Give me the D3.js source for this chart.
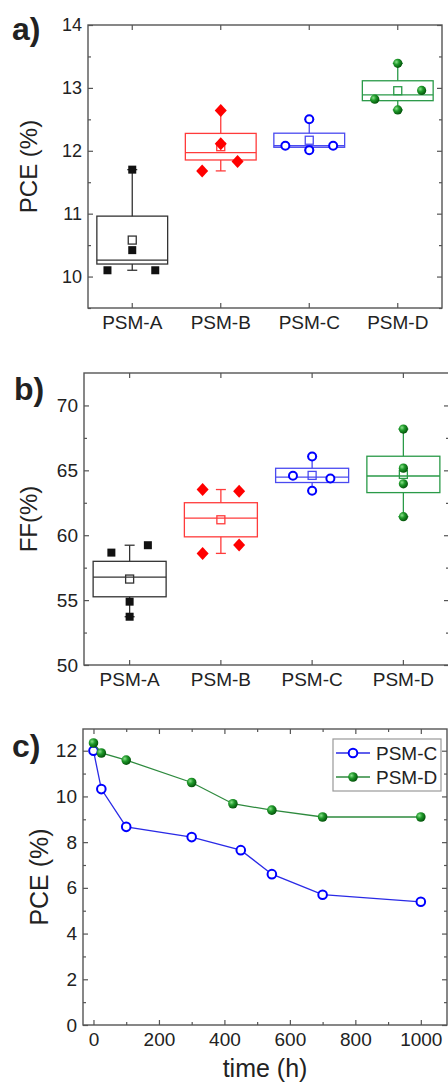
<!DOCTYPE html>
<meta charset="UTF-8">
<style>
    body { margin: 0; background: #fff; }
    svg text { font-family: "Liberation Sans", Arial, sans-serif; fill: #222; }
    .frame { fill: none; stroke: #555; stroke-width: 1.4px; }
    .tick line { stroke: #555; stroke-width: 1.2px; }
</style>
<body>
<script src="https://cdn.jsdelivr.net/npm/d3@7"></script>
<script>

// ---- data ----
var categories = ["PSM-A", "PSM-B", "PSM-C", "PSM-D"];

// a) PCE of each device (%)
var pceA = [11.70, 10.42, 10.10, 10.10];
var pceB = [12.64, 12.11, 11.68, 11.83];
var pceC = [12.50, 12.08, 12.01, 12.08];
var pceD = [13.39, 12.96, 12.82, 12.65];

// b) FF of each device (%)
var ffA = [58.66, 59.23, 54.88, 53.72];
var ffB = [63.52, 63.39, 58.60, 59.25];
var ffC = [66.07, 63.42, 64.58, 64.37];
var ffD = [68.18, 65.17, 63.96, 61.43];

// c) stability, PCE vs time
var hoursC = [0, 24, 100, 300, 450, 545, 700, 1000];
var pceTimeC = [12.00, 10.32, 8.67, 8.22, 7.65, 6.60, 5.70, 5.39];
var hoursD = [0, 24, 100, 300, 426, 545, 700, 1000];
var pceTimeD = [12.34, 11.90, 11.59, 10.61, 9.68, 9.40, 9.10, 9.10];

var pceTicks = [10, 11, 12, 13, 14];
var ffTicks = [50, 55, 60, 65, 70];
var timeTicks = [0, 200, 400, 600, 800, 1000];
var pceTimeTicks = [0, 2, 4, 6, 8, 10, 12];

// ---- styling / layout ----
var colors = ["#111", "#ff0000", "#0000ff", "#0a8a1e"];
var boxColors = ["#333", "#ff3b3b", "#4a4af0", "#2a9a48"];
var shapes = ["square", "diamond", "circle", "ball"];
var fmt = d3.format("d");

// horizontal spread of overlapping points (fraction of band)
var jitterPce = [[0, 0, -0.28, 0.26], [0, 0, -0.21, 0.19], [0, -0.27, 0, 0.27], [0, 0.27, -0.26, 0]];
var jitterFf = [[-0.2, 0.2, 0, 0], [-0.2, 0.2, -0.2, 0.2], [0, 0, -0.21, 0.2], [0, 0, 0, 0]];

var svg = d3.select("body").append("svg")
    .attr("width", 448)
    .attr("height", 1086);

// gradient for the green "balls"
var grad = svg.append("defs").append("radialGradient")
    .attr("id", "ball")
    .attr("cx", "35%").attr("cy", "35%").attr("r", "65%");
grad.append("stop").attr("offset", "0%").attr("stop-color", "#8be08b");
grad.append("stop").attr("offset", "45%").attr("stop-color", "#1f9a2a");
grad.append("stop").attr("offset", "100%").attr("stop-color", "#05560c");

function drawMarker(g, shape, i, cx, cy, r) {
  if (shape === "square") {
    g.append("rect").attr("x", cx - 4).attr("y", cy - 4)
      .attr("width", 8).attr("height", 8).attr("fill", colors[i]);
  } else if (shape === "diamond") {
    g.append("path")
      .attr("d", "M" + cx + "," + (cy - 6.5) + "L" + (cx + 6) + "," + cy +
                 "L" + cx + "," + (cy + 6.5) + "L" + (cx - 6) + "," + cy + "Z")
      .attr("fill", colors[i]);
  } else if (shape === "circle") {
    g.append("circle").attr("cx", cx).attr("cy", cy).attr("r", r || 4)
      .attr("fill", "#fff").attr("stroke", colors[i]).attr("stroke-width", 2);
  } else {
    g.append("circle").attr("cx", cx).attr("cy", cy).attr("r", r || 4.6)
      .attr("fill", "url(#ball)");
  }
}

function range(a, b, step) {
  var out = [];
  for (var v = a; v <= b + 1e-9; v += step) out.push(+v.toFixed(3));
  return out;
}

// ****************** box panels (a, b) ***************************
function boxPanel(opt) {
  var g = svg.append("g");
  var x = d3.scaleBand().domain(categories).range([opt.left, opt.right]);
  var y = d3.scaleLinear().domain(opt.domain).range([opt.bottom, opt.top]);
  var bw = x.bandwidth();

  // axes, ticks pointing inward
  var yl = g.append("g").attr("transform", "translate(" + opt.left + ",0)")
      .call(d3.axisLeft(y).tickValues(opt.ticks).tickFormat(fmt).tickSize(-5).tickPadding(6));
  yl.selectAll("text").style("font-size", opt.tickFont + "px");
  g.append("g").attr("transform", "translate(" + opt.left + ",0)")
      .call(d3.axisLeft(y).tickValues(opt.minor).tickSize(-3).tickFormat(""));
  g.append("g").attr("transform", "translate(" + opt.right + ",0)")
      .call(d3.axisRight(y).tickValues(opt.ticks).tickSize(-5).tickFormat(""));
  g.append("g").attr("transform", "translate(" + opt.right + ",0)")
      .call(d3.axisRight(y).tickValues(opt.minor).tickSize(-3).tickFormat(""));
  var xb = g.append("g").attr("transform", "translate(0," + opt.bottom + ")")
      .call(d3.axisBottom(x).tickSize(-5).tickPadding(8));
  xb.selectAll("text").style("font-size", "19px");
  g.append("g").attr("transform", "translate(0," + opt.top + ")")
      .call(d3.axisTop(x).tickSize(-5).tickFormat(""));
  g.selectAll(".domain").remove();
  g.selectAll(".tick text").attr("fill", "#222");

  g.append("rect").attr("class", "frame")
      .attr("x", opt.left).attr("y", opt.top)
      .attr("width", opt.right - opt.left).attr("height", opt.bottom - opt.top);

  opt.series.forEach(function(vals, i) {
    var cx = x(categories[i]) + bw / 2;
    var mean = d3.mean(vals);
    var se = d3.deviation(vals) / Math.sqrt(vals.length);
    var med = d3.median(vals);
    var ext = d3.extent(vals);
    var c = boxColors[i];
    var half = bw * 0.4;
    var bg = g.append("g").attr("stroke", c).attr("stroke-width", 1.3).attr("fill", "none");

    // whiskers with caps
    bg.append("line").attr("x1", cx).attr("x2", cx).attr("y1", y(mean + se)).attr("y2", y(ext[1]));
    bg.append("line").attr("x1", cx).attr("x2", cx).attr("y1", y(mean - se)).attr("y2", y(ext[0]));
    [ext[0], ext[1]].forEach(function(v) {
      bg.append("line").attr("x1", cx - 5).attr("x2", cx + 5).attr("y1", y(v)).attr("y2", y(v));
    });
    // box = mean +- standard error
    bg.append("rect").attr("x", cx - half).attr("width", half * 2)
      .attr("y", y(mean + se)).attr("height", y(mean - se) - y(mean + se));
    bg.append("line").attr("x1", cx - half).attr("x2", cx + half).attr("y1", y(med)).attr("y2", y(med));
    bg.append("rect").attr("x", cx - 4).attr("y", y(mean) - 4).attr("width", 8).attr("height", 8);

    vals.forEach(function(v, k) {
      drawMarker(g, shapes[i], i, cx + opt.jitter[i][k] * bw, y(v));
    });
  });

  svg.append("text")
      .attr("transform", "translate(" + opt.titleX + "," + ((opt.top + opt.bottom) / 2) + ") rotate(-90)")
      .attr("text-anchor", "middle")
      .style("font-size", "24px")
      .text(opt.title);
  svg.append("text")
      .attr("x", opt.labelX).attr("y", opt.labelY)
      .style("font-size", "32px").style("font-weight", "bold").attr("fill", "#111")
      .text(opt.label);
}

boxPanel({
  left: 88, right: 442, top: 25, bottom: 308,
  domain: [9.5, 14], ticks: pceTicks, minor: range(9.5, 13.5, 1), tickFont: 18,
  series: [pceA, pceB, pceC, pceD], jitter: jitterPce,
  title: "PCE (%)", titleX: 37, label: "a)", labelX: 12, labelY: 40
});

boxPanel({
  left: 84, right: 449, top: 373, bottom: 665,
  domain: [50, 72.5], ticks: ffTicks, minor: range(52.5, 67.5, 5), tickFont: 19,
  series: [ffA, ffB, ffC, ffD], jitter: jitterFf,
  title: "FF(%)", titleX: 37, label: "b)", labelX: 14, labelY: 400
});

// ****************** stability panel (c) ***************************
var cp = {left: 83, right: 447, top: 729, bottom: 1025};
var gc = svg.append("g");
var xt = d3.scaleLinear().domain([-32, 1080]).range([cp.left, cp.right]);
var yt = d3.scaleLinear().domain([0, 12.95]).range([cp.bottom, cp.top]);

var yax = gc.append("g").attr("transform", "translate(" + cp.left + ",0)")
    .call(d3.axisLeft(yt).tickValues(pceTimeTicks).tickFormat(fmt).tickSize(-5).tickPadding(6));
yax.selectAll("text").style("font-size", "19px");
gc.append("g").attr("transform", "translate(" + cp.left + ",0)")
    .call(d3.axisLeft(yt).tickValues(range(1, 11, 2)).tickSize(-3).tickFormat(""));
gc.append("g").attr("transform", "translate(" + cp.right + ",0)")
    .call(d3.axisRight(yt).tickValues(pceTimeTicks).tickSize(-5).tickFormat(""));
gc.append("g").attr("transform", "translate(" + cp.right + ",0)")
    .call(d3.axisRight(yt).tickValues(range(1, 11, 2)).tickSize(-3).tickFormat(""));
var xax = gc.append("g").attr("transform", "translate(0," + cp.bottom + ")")
    .call(d3.axisBottom(xt).tickValues(timeTicks).tickFormat(fmt).tickSize(-5).tickPadding(8));
xax.selectAll("text").style("font-size", "19px");
gc.append("g").attr("transform", "translate(0," + cp.bottom + ")")
    .call(d3.axisBottom(xt).tickValues(range(100, 900, 200)).tickSize(-3).tickFormat(""));
gc.append("g").attr("transform", "translate(0," + cp.top + ")")
    .call(d3.axisTop(xt).tickValues(timeTicks).tickSize(-5).tickFormat(""));
gc.append("g").attr("transform", "translate(0," + cp.top + ")")
    .call(d3.axisTop(xt).tickValues(range(100, 900, 200)).tickSize(-3).tickFormat(""));
gc.selectAll(".domain").remove();
gc.selectAll(".tick text").attr("fill", "#222");

gc.append("rect").attr("class", "frame")
    .attr("x", cp.left).attr("y", cp.top)
    .attr("width", cp.right - cp.left).attr("height", cp.bottom - cp.top);

var lineSeries = [
  {name: "PSM-C", t: hoursC, v: pceTimeC, i: 2, line: "#2a2ae6"},
  {name: "PSM-D", t: hoursD, v: pceTimeD, i: 3, line: "#2e8a3e"}
];
var line = d3.line().x(function(d) { return xt(d[0]); }).y(function(d) { return yt(d[1]); });

lineSeries.forEach(function(s) {
  var pts = d3.zip(s.t, s.v);
  gc.append("path").attr("d", line(pts))
    .attr("fill", "none").attr("stroke", s.line).attr("stroke-width", 1.3);
  pts.forEach(function(p) {
    drawMarker(gc, shapes[s.i], s.i, xt(p[0]), yt(p[1]), s.i === 2 ? 4.3 : 4.8);
  });
});

// legend
var lg = gc.append("g");
lg.append("rect").attr("x", 333).attr("y", 739).attr("width", 108).attr("height", 52)
  .attr("fill", "#fff").attr("stroke", "#999").attr("stroke-width", 1.2);
lineSeries.forEach(function(s, k) {
  var ly = 753 + k * 24;
  lg.append("line").attr("x1", 336).attr("x2", 370).attr("y1", ly).attr("y2", ly)
    .attr("stroke", s.line).attr("stroke-width", 1.3);
  drawMarker(lg, shapes[s.i], s.i, 353, ly, s.i === 2 ? 4.3 : 4.8);
  lg.append("text").attr("x", 376).attr("y", ly).attr("dy", "0.36em")
    .style("font-size", "19px").text(s.name);
});

svg.append("text")
    .attr("transform", "translate(48," + ((cp.top + cp.bottom) / 2) + ") rotate(-90)")
    .attr("text-anchor", "middle").style("font-size", "25px")
    .text("PCE (%)");
svg.append("text")
    .attr("x", (cp.left + cp.right) / 2).attr("y", 1077)
    .attr("text-anchor", "middle").style("font-size", "25px")
    .text("time (h)");
svg.append("text")
    .attr("x", 12).attr("y", 757)
    .style("font-size", "32px").style("font-weight", "bold").attr("fill", "#111")
    .text("c)");

</script>
</body>
